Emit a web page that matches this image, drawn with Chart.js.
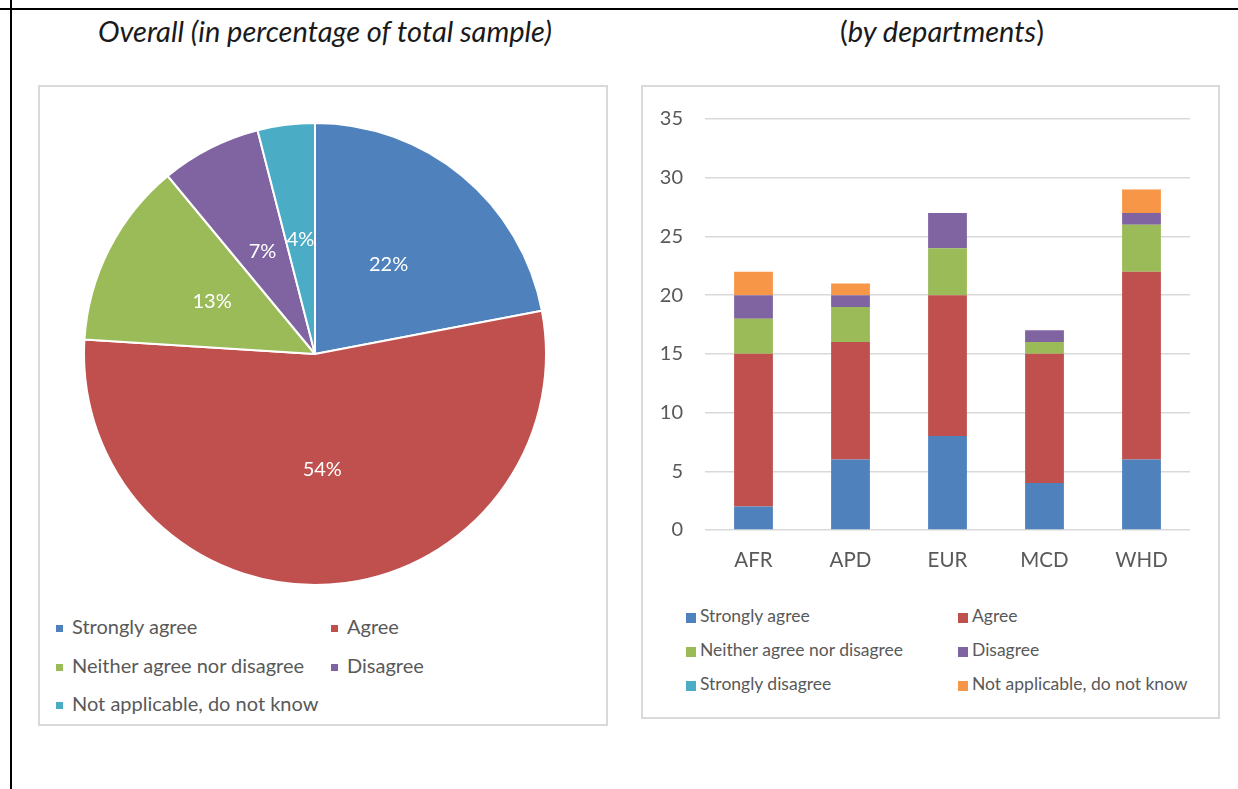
<!DOCTYPE html>
<html>
<head>
<meta charset="utf-8">
<script src="https://cdn.jsdelivr.net/npm/chart.js@4.4.1/dist/chart.umd.min.js"></script>
<style>
body { margin: 0; width: 1238px; height: 789px; position: relative; background: #fff; font-family: Lato, sans-serif; overflow: hidden; }
.frameTop { position: absolute; left: 0; top: 8px; width: 1238px; height: 2px; background: #000; }
.frameLeft { position: absolute; left: 10px; top: 0; width: 2px; height: 789px; background: #000; }
.title { position: absolute; top: 13px; font-size: 29px; color: #1a1a1a; text-align: center; white-space: nowrap; }
.box { position: absolute; border: 2px solid #d9d9d9; box-sizing: border-box; }
.wrap { position: absolute; }
.leg { position: absolute; color: #595959; white-space: nowrap; }
.leg span.m { display: inline-block; vertical-align: middle; }
</style>
</head>
<body>
<div class="frameTop"></div>
<div class="frameLeft"></div>

<div class="title" style="left:40px;width:570px;"><i>Overall (in percentage of total sample)</i></div>
<div class="title" style="left:641px;width:602px;">(<i>by departments</i>)</div>

<div class="box" style="left:38px;top:85px;width:570px;height:641px;"></div>
<div class="box" style="left:641px;top:85px;width:579px;height:634px;"></div>

<div class="wrap" style="left:83px;top:122px;width:464px;height:464px;"><canvas id="pieChart"></canvas></div>
<div class="wrap" style="left:641px;top:85px;width:578px;height:500px;"><canvas id="barChart"></canvas></div>

<div id="pieLegend"></div>
<div id="barLegend"></div>

<script>
// pie: overall shares (%)
const pieLabels = ['Strongly agree', 'Agree', 'Neither agree nor disagree', 'Disagree', 'Not applicable, do not know'];
const pieValues = [22, 54, 13, 7, 4];
const pieColors = ['#4F81BD', '#C0504D', '#9BBB59', '#8064A2', '#4BACC6'];

// bars: counts by department
const departments = ['AFR', 'APD', 'EUR', 'MCD', 'WHD'];
const stronglyAgree = [2, 6, 8, 4, 6];
const agree = [13, 10, 12, 11, 16];
const neither = [3, 3, 4, 1, 4];
const disagree = [2, 1, 3, 1, 1];
const stronglyDisagree = [0, 0, 0, 0, 0];
const notApplicable = [2, 1, 0, 0, 2];
const barLabels = ['Strongly agree', 'Agree', 'Neither agree nor disagree', 'Disagree', 'Strongly disagree', 'Not applicable, do not know'];
const barColors = ['#4F81BD', '#C0504D', '#9BBB59', '#8064A2', '#4BACC6', '#F79646'];
const yMax = 35;
const yStep = 5;

const font = 'Lato, sans-serif';

const sliceLabels = {
    id: 'sliceLabels',
    afterDatasetsDraw(chart) {
        const ctx = chart.ctx;
        const meta = chart.getDatasetMeta(0);
        ctx.save();
        ctx.fillStyle = '#fff';
        ctx.font = '20px ' + font;
        ctx.textAlign = 'center';
        ctx.textBaseline = 'middle';
        meta.data.forEach((arc, i) => {
            const p = arc.getCenterPoint();
            ctx.fillText(pieValues[i] + '%', p.x, p.y);
        });
        ctx.restore();
    }
};

new Chart(document.getElementById('pieChart'), {
    type: 'pie',
    data: {
        labels: pieLabels,
        datasets: [{
            data: pieValues,
            backgroundColor: pieColors,
            borderColor: '#fff',
            borderWidth: 2,
            hoverOffset: 0
        }]
    },
    options: {
        responsive: true,
        maintainAspectRatio: false,
        animation: false,
        plugins: { legend: { display: false }, tooltip: { enabled: false } }
    },
    plugins: [sliceLabels]
});

const series = [stronglyAgree, agree, neither, disagree, stronglyDisagree, notApplicable];
new Chart(document.getElementById('barChart'), {
    type: 'bar',
    data: {
        labels: departments,
        datasets: series.map((d, i) => ({
            label: barLabels[i],
            data: d,
            backgroundColor: barColors[i],
            barPercentage: 0.4,
            categoryPercentage: 1
        }))
    },
    options: {
        responsive: true,
        maintainAspectRatio: false,
        animation: false,
        layout: { padding: { top: 34, right: 29, left: 0, bottom: 0 } },
        plugins: { legend: { display: false }, tooltip: { enabled: false } },
        scales: {
            x: {
                stacked: true,
                grid: { display: false, drawTicks: false },
                border: { display: false },
                ticks: { color: '#595959', font: { family: font, size: 20.5 }, padding: 18 },
                afterFit(s) { s.height = 55; }
            },
            y: {
                stacked: true,
                min: 0,
                max: yMax,
                grid: { color: '#d9d9d9', lineWidth: 1.5, drawTicks: false },
                border: { display: false },
                ticks: { stepSize: yStep, color: '#595959', font: { family: font, size: 20 }, padding: 22 },
                afterFit(s) { s.width = 64; }
            }
        }
    }
});

// legends as html, two columns
function legend(el, labels, colors, opts) {
    let html = '';
    labels.forEach((l, i) => {
        const col = i % 2, row = Math.floor(i / 2);
        html += '<div class="leg" style="left:' + opts.x[col] + 'px;top:' + (opts.y0 + row * opts.dy) + 'px;font-size:' + opts.size + 'px;">' +
            '<span class="m" style="width:' + opts.m + 'px;height:' + opts.m + 'px;background:' + colors[i] + ';margin-right:' + opts.gap + 'px;"></span>' + l + '</div>';
    });
    document.getElementById(el).innerHTML = html;
}
legend('pieLegend', pieLabels, pieColors, { x: [56, 331], y0: 614, dy: 38.5, size: 20, m: 7, gap: 9 });
legend('barLegend', barLabels, barColors, { x: [686, 958], y0: 605, dy: 34, size: 17.5, m: 10, gap: 4 });
</script>
</body>
</html>
